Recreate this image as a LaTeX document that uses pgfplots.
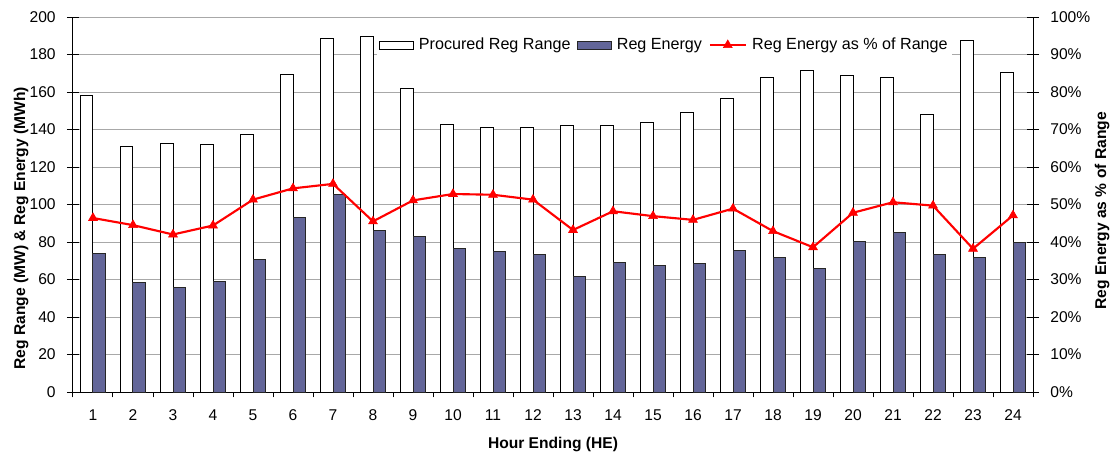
\documentclass[border=0pt]{standalone}
\usepackage{pgfplots}
\usepackage{pgfplotstable}
\pgfplotsset{compat=1.18}
\usepackage{fontspec}
\setmainfont{Liberation Sans}
\definecolor{barblue}{HTML}{636699}
\definecolor{gridgray}{HTML}{A8A8A8}

\pgfplotsset{
  mylineleg/.style={legend image code/.code={%
    \draw[##1] (0pt,0pt) -- (27pt,0pt);
    \draw[##1] plot coordinates {(13.5pt,0pt)};}},
  mybarleg/.style={legend image code/.code={%
    \draw[##1] (0pt,-3pt) rectangle (25pt,3pt);}},
}

\pgfplotstableread{
x range energy pct
1 158.0 73.8 46.4
2 130.8 58.5 44.5
3 132.6 55.6 42.0
4 131.9 59.0 44.4
5 137.4 70.9 51.3
6 169.6 93.2 54.3
7 188.8 105.1 55.5
8 189.5 86.4 45.5
9 162.1 83.2 51.1
10 142.8 76.4 52.8
11 141.3 75.0 52.6
12 141.3 73.1 51.3
13 142.0 61.5 43.2
14 142.0 69.0 48.2
15 144.0 67.7 46.9
16 149.3 68.4 45.9
17 156.8 75.7 48.9
18 167.5 71.6 42.9
19 171.4 65.8 38.6
20 168.7 80.5 47.8
21 168.0 85.3 50.6
22 147.9 73.1 49.7
23 187.6 71.6 38.2
24 170.3 79.8 47.1
}\data

\begin{document}
\begin{tikzpicture}[font=\fontsize{11.7}{14}\selectfont]
\pgfplotsset{
  common/.style={
    at={(0,0)}, anchor=south west,
    scale only axis, width=720pt, height=281.25pt,
    xmin=0.5, xmax=24.5,
    /pgf/number format/assume math mode=true,
    tick align=center,
    major tick length=9pt,
    axis line style={black, line width=0.75pt},
    every tick/.style={black, line width=0.75pt},
  }
}
\begin{axis}[common,
  ymin=0, ymax=200, ytick={0,20,...,200},
  axis x line*=bottom, axis y line*=left,
  xtick={1,...,24},
  major x tick style={draw=none},
  minor xtick={0.5,1.5,...,24.5},
  minor tick length=4pt,
  minor x tick style={black, line width=0.75pt, yshift=-2pt},
  ymajorgrids,
  grid style={gridgray, line width=0.75pt},
  xticklabel style={yshift=-5pt},
  yticklabel style={xshift=-5pt},
  xlabel={\bfseries Hour Ending (HE)},
  ylabel={\bfseries Reg Range (MW) \& Reg Energy (MWh)},
  every axis x label/.style={at={(axis description cs:0.5,-0.141)}, anchor=center},
  every axis y label/.style={at={(axis description cs:-0.054,0.437)}, rotate=90, anchor=center},
]
\addplot[ybar, bar width=9.4pt, bar shift=-4.7pt, fill=white, draw=black, line width=0.75pt] table[x=x, y=range] {\data};
\addplot[ybar, bar width=9.4pt, bar shift=4.7pt, fill=barblue, draw=black!85, line width=0.75pt] table[x=x, y=energy] {\data};
\end{axis}
\begin{axis}[common,
  ymin=0, ymax=100, ytick={0,10,...,100},
  axis y line*=right, axis x line=none,
  yticklabel={\pgfmathprintnumber{\tick}\%},
  yticklabel style={xshift=5pt},
  ylabel={\bfseries Reg Energy as \% of Range},
  every axis y label/.style={at={(axis description cs:1.072,0.483)}, rotate=90, anchor=center},
  legend columns=-1,
  legend style={at={(axis description cs:0.316,0.925)}, anchor=west, fill=white, draw=none,
    inner xsep=2pt, inner ysep=3pt, font=\fontsize{12.1}{14}\selectfont,
    /tikz/every odd column/.append style={column sep=3pt},
    /tikz/every even column/.append style={column sep=4pt},
    nodes={inner xsep=1pt, inner ysep=1pt}},
]
\addlegendimage{mybarleg, fill=white, draw=black, line width=0.75pt}
\addlegendentry{Procured Reg Range}
\addlegendimage{mybarleg, fill=barblue, draw=black!85, line width=0.75pt}
\addlegendentry{Reg Energy}
\addplot[red, line width=1.6pt, mark=triangle*, mark size=3.8pt, mark options={solid, line width=0.5pt}, mylineleg]
  table[x=x, y=pct] {\data};
\addlegendentry{Reg Energy as \% of Range}
\end{axis}
\pgfresetboundingbox
\path[use as bounding box] (-54.75pt,-47.25pt) rectangle (780.75pt,294pt);
\end{tikzpicture}
\end{document}
